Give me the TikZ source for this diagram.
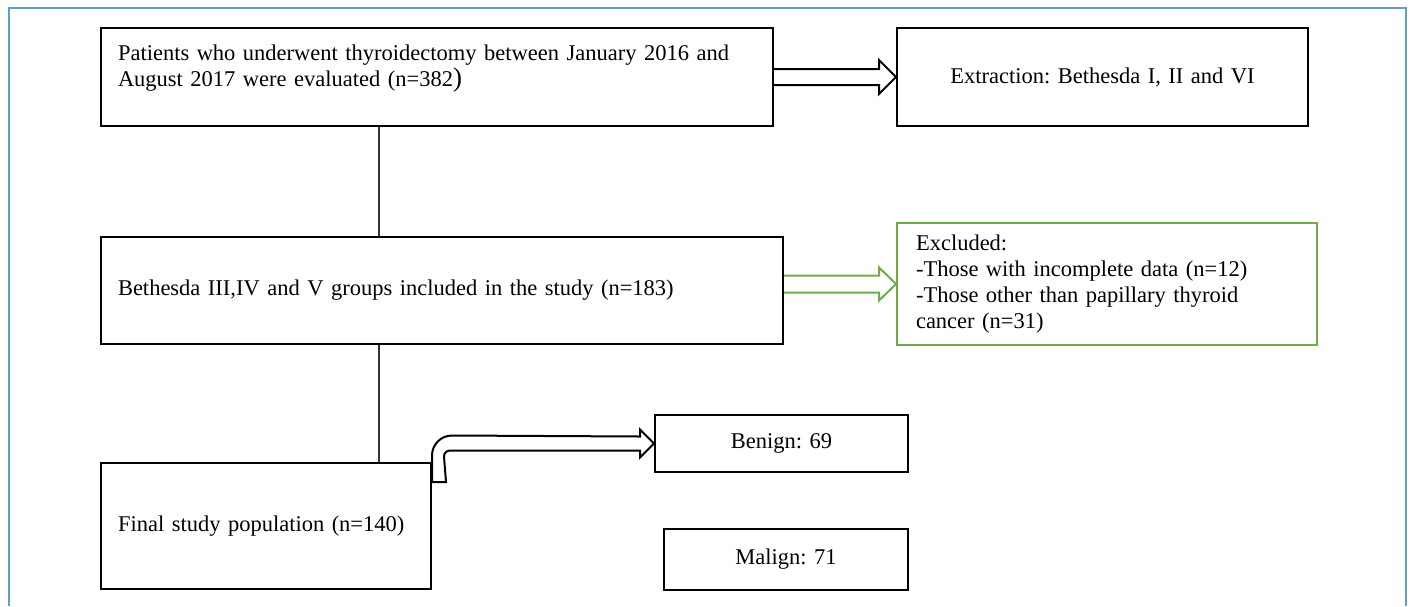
\documentclass[tikz,border=0pt]{standalone}
\usepackage{fontspec}
\setmainfont{Liberation Serif}
\usetikzlibrary{positioning, calc}
\usepackage{xcolor}
\definecolor{frameblue}{RGB}{98,158,196}
\definecolor{excludegreen}{RGB}{112,173,71}
\frenchspacing

\begin{document}
\begin{tikzpicture}[x=1pt, y=-1pt,
  box/.style={draw, line width=2pt, rectangle, anchor=north west, inner xsep=17pt, inner ysep=0pt, align=left, font=\fontsize{22.5}{26}\selectfont},
  link/.style={draw=black!80, line width=1.2pt},
  hollow/.style={draw, line width=2pt, line join=miter}]

\useasboundingbox (0,0) rectangle (1412,606);
\draw[frameblue, line width=1.5pt] (9,606) -- (9,8) -- (1406,8) -- (1406,606);

\node[box, minimum width=672pt, minimum height=98pt, text width=638pt] (eval) at (100,27) {Patients who underwent thyroidectomy between January 2016 and\\August 2017 were evaluated (n=382{\fontsize{27}{27}\selectfont)}\\[-4pt]\mbox{}};
\node[box, minimum width=411pt, minimum height=98pt, text width=377pt, align=center] (extract) at (896,27) {Extraction: Bethesda I, II and VI};
\node[box, minimum width=682pt, minimum height=107pt, text width=648pt] (incl) at (100,236) {Bethesda III,IV and V groups included in the study (n=183)};
\node[box, draw=excludegreen, minimum width=420pt, minimum height=122pt, text width=382pt, inner xsep=19pt] (excl) at (896,222) {Excluded:\\-Those with incomplete data (n=12)\\-Those other than papillary thyroid\\cancer (n=31)};
\node[box, minimum width=330pt, minimum height=126pt, text width=296pt] (final) at (100,462) {Final study population (n=140)};
\node[box, minimum width=253pt, minimum height=57pt, text width=219pt, align=center] (benign) at (654,414) {Benign: 69};
\node[box, minimum width=244pt, minimum height=61pt, text width=210pt, align=center] (malign) at (663,528) {Malign: 71};

\draw[link] ([xshift=279pt]eval.south west) -- ([xshift=279pt]incl.north west);
\draw[link] ([xshift=279pt]incl.south west) -- ([xshift=279pt]final.north west);

\draw[hollow] ([shift={(0,-8)}]eval.east) -- ([shift={(-17,-8)}]extract.west) -- ([shift={(-17,-17)}]extract.west) -- (extract.west) -- ([shift={(-17,17)}]extract.west) -- ([shift={(-17,8)}]extract.west) -- ([shift={(0,8)}]eval.east);

\draw[hollow, excludegreen] ([shift={(0,-8.5)}]incl.east |- excl.west) -- ([shift={(-17,-8.5)}]excl.west) -- ([shift={(-17,-16.5)}]excl.west) -- (excl.west) -- ([shift={(-17,16.5)}]excl.west) -- ([shift={(-17,8.5)}]excl.west) -- ([shift={(0,8.5)}]incl.east |- excl.west);

\draw[hollow] ([shift={(0,20)}]final.north east) -- ([shift={(0,-6.5)}]final.north east) arc (180:90:20pt) -- ([shift={(-14,-7)}]benign.west) -- ([shift={(-14,-14)}]benign.west) -- (benign.west) -- ([shift={(-14,14)}]benign.west) -- ([shift={(-14,7)}]benign.west) -- ([shift={(-204,7)}]benign.west) arc (90:180:6pt) -- ([shift={(14,20)}]final.north east) -- cycle;

\end{tikzpicture}
\end{document}
